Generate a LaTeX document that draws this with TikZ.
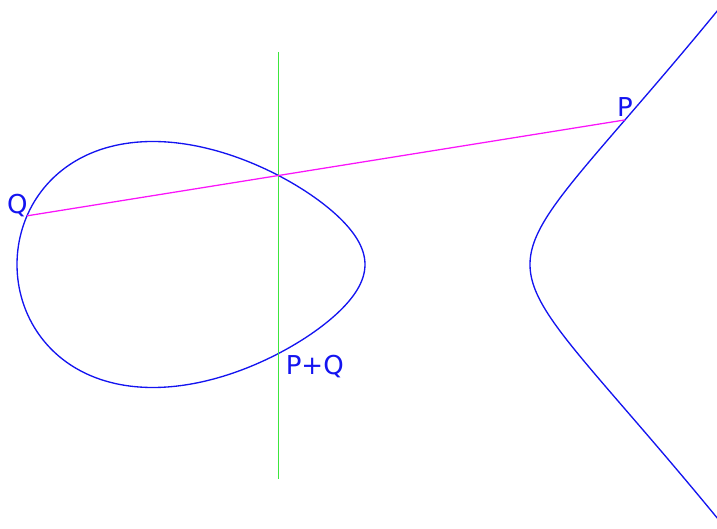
\documentclass[tikz,border=0pt]{standalone}
\usepackage{fontspec}
\setmainfont{DejaVu Sans}
\usepackage{xcolor}
\usetikzlibrary{positioning}
\definecolor{curveblue}{RGB}{20,20,240}
\definecolor{chordpink}{RGB}{250,20,250}
\definecolor{vertgreen}{RGB}{60,230,60}
\tikzset{
  curve/.style={curveblue,line width=0.95pt},
  chord/.style={chordpink,line width=0.9pt},
  vertical/.style={vertgreen,line width=0.9pt},
  ptlabel/.style={text=curveblue,inner sep=0pt,font=\fontsize{18.5}{22}\selectfont}
}

\begin{document}
\begin{tikzpicture}[x=2.5cm,y=2.5cm]
  \useasboundingbox (-0.17,-2.645) rectangle (7.00,2.645);
  \clip (-0.17,-2.645) rectangle (7.00,2.645);
  % the cubic y^2 = k x (3.48-x)(5.13-x): bounded oval and unbounded branch
  \draw[curve] plot[domain=0:360,samples=180,smooth,variable=\t]
    ({1.74*(1-cos(\t))},{1.74*sin(\t)*sqrt(0.1392*(5.13-1.74*(1-cos(\t))))}) -- cycle;
  \draw[curve] plot[domain=-1.45:1.45,samples=120,smooth,variable=\s]
    ({5.13+\s*\s},{\s*sqrt(0.1392*(5.13+\s*\s)*(1.65+\s*\s))});
  % the points
  \coordinate (Q) at (0.10,0.4865);
  \coordinate (P) at (6.08,1.4458);
  \coordinate (R) at (2.615,0.8898);
  \coordinate (PQ) at (2.615,-0.8898);
  \coordinate (vtop) at (2.615,2.125);
  \coordinate (vbot) at (2.615,-2.145);
  % chord through P and Q, then reflect the third point
  \draw[vertical] (vtop) -- (vbot);
  \draw[chord] (Q) -- (P);
  \node[ptlabel,above=2pt of P] (lp) {P};
  \node[ptlabel,anchor=base east,xshift=0.7pt,yshift=1.4pt] (lq) at (Q) {Q};
  \node[ptlabel,below right=1pt and 5pt of PQ] (lpq) {P+Q};
\end{tikzpicture}
\end{document}
